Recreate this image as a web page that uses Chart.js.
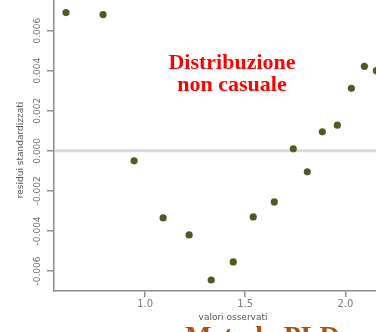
<!DOCTYPE html>
<html>
<head>
<meta charset="utf-8">
<script src="https://cdn.jsdelivr.net/npm/chart.js@4"></script>
<style>
  html, body { margin: 0; padding: 0; background: #ffffff; overflow: hidden; }
  #wrap { width: 376px; height: 332px; position: relative; overflow: hidden; }
  #c { position: absolute; left: 0; top: -4px; }
</style>
</head>
<body>
<div id="wrap"><canvas id="c" width="380" height="336"></canvas></div>
<script>
// Observed values (x) and standardized residuals (y)
const observed = [0.605, 0.79, 0.945, 1.09, 1.22, 1.33, 1.44, 1.54, 1.645, 1.74, 1.81, 1.885, 1.96, 2.03, 2.095, 2.155];
const residuals = [0.0069, 0.0068, -0.0005, -0.00335, -0.0042, -0.00645, -0.00555, -0.0033, -0.00255, 0.0001, -0.00105, 0.00095, 0.00128, 0.00312, 0.00422, 0.004];

const xTicks = [1.0, 1.5, 2.0];
const yTicks = [-0.006, -0.004, -0.002, 0.000, 0.002, 0.004, 0.006];
const xTickLabels = ['1.0', '1.5', '2.0'];
const yTickLabels = ['-0.006', '-0.004', '-0.002', '0.000', '0.002', '0.004', '0.006'];

const xTitle = 'valori osservati';
const yTitle = 'residui standardizzati';
const noteLines = ['Distribuzione', 'non casuale'];
const footer = 'Metodo PLD';

const points = observed.map((x, i) => ({ x: x, y: residuals[i] }));

const AXIS = '#8c8c8c';
const OY = 4; // canvas is shifted up by the layout's top padding

const decor = {
  id: 'decor',
  beforeDatasetsDraw(chart) {
    const { ctx, chartArea, scales } = chart;
    const y0 = scales.y.getPixelForValue(0);
    ctx.save();
    ctx.strokeStyle = '#d9d9d9';
    ctx.lineWidth = 3;
    ctx.beginPath();
    ctx.moveTo(chartArea.left + 1, y0);
    ctx.lineTo(chartArea.right + 4, y0);
    ctx.stroke();
    ctx.restore();
  },
  afterDraw(chart) {
    const { ctx, scales } = chart;
    ctx.save();
    // y tick labels, rotated to read upward
    ctx.fillStyle = '#6e6e6e';
    ctx.font = '9px "DejaVu Sans", sans-serif';
    ctx.textAlign = 'center';
    ctx.textBaseline = 'middle';
    yTicks.forEach((v, i) => {
      const py = scales.y.getPixelForValue(v);
      ctx.save();
      ctx.translate(38, py);
      ctx.rotate(-Math.PI / 2);
      ctx.fillText(yTickLabels[i], 0, 0);
      ctx.restore();
    });
    // x tick labels
    ctx.font = '10px "DejaVu Sans", sans-serif';
    ctx.fillStyle = '#7a7a7a';
    xTicks.forEach((v, i) => {
      const px = scales.x.getPixelForValue(v);
      ctx.fillText(xTickLabels[i], px, 304 + OY);
    });
    // axis titles
    ctx.fillStyle = '#555555';
    ctx.font = '9px "DejaVu Sans", sans-serif';
    ctx.fillText(xTitle, 233, 318 + OY);
    ctx.save();
    ctx.translate(21, 150 + OY);
    ctx.rotate(-Math.PI / 2);
    ctx.fillText(yTitle, 0, 0);
    ctx.restore();
    // annotation
    ctx.fillStyle = '#ff0000';
    ctx.font = 'bold 22px "Liberation Serif", serif';
    ctx.textBaseline = 'alphabetic';
    ctx.fillText(noteLines[0], 232, 69 + OY);
    ctx.fillText(noteLines[1], 232, 91 + OY);
    // footer title, partly below the visible area
    ctx.fillStyle = '#b0500f';
    ctx.font = 'bold 28px "Liberation Serif", serif';
    ctx.textAlign = 'left';
    ctx.fillText(footer, 185, 345 + OY);
    ctx.restore();
  }
};

new Chart(document.getElementById('c'), {
  type: 'scatter',
  data: {
    datasets: [{
      data: points,
      backgroundColor: '#4b5e22',
      borderColor: '#4b5e22',
      pointRadius: 3.6,
      pointHoverRadius: 3.6,
      borderWidth: 0
    }]
  },
  options: {
    responsive: false,
    animation: false,
    events: [],
    layout: { padding: 0 },
    plugins: { legend: { display: false }, tooltip: { enabled: false } },
    scales: {
      x: {
        type: 'linear',
        min: 0.545,
        max: 2.155,
        afterBuildTicks(scale) { scale.ticks = xTicks.map(v => ({ value: v })); },
        afterFit(scale) { scale.height = 41; },
        ticks: { display: false },
        grid: { drawOnChartArea: false, drawTicks: true, tickLength: 6, color: AXIS, lineWidth: 1.5 },
        border: { display: true, color: AXIS, width: 1.5 }
      },
      y: {
        type: 'linear',
        min: -0.007,
        max: 0.00755,
        afterBuildTicks(scale) { scale.ticks = yTicks.map(v => ({ value: v })); },
        afterFit(scale) { scale.width = 54; },
        ticks: { display: false },
        grid: { drawOnChartArea: false, drawTicks: true, tickLength: 7, color: AXIS, lineWidth: 1.5 },
        border: { display: true, color: AXIS, width: 1.5 }
      }
    }
  },
  plugins: [decor]
});
</script>
</body>
</html>
